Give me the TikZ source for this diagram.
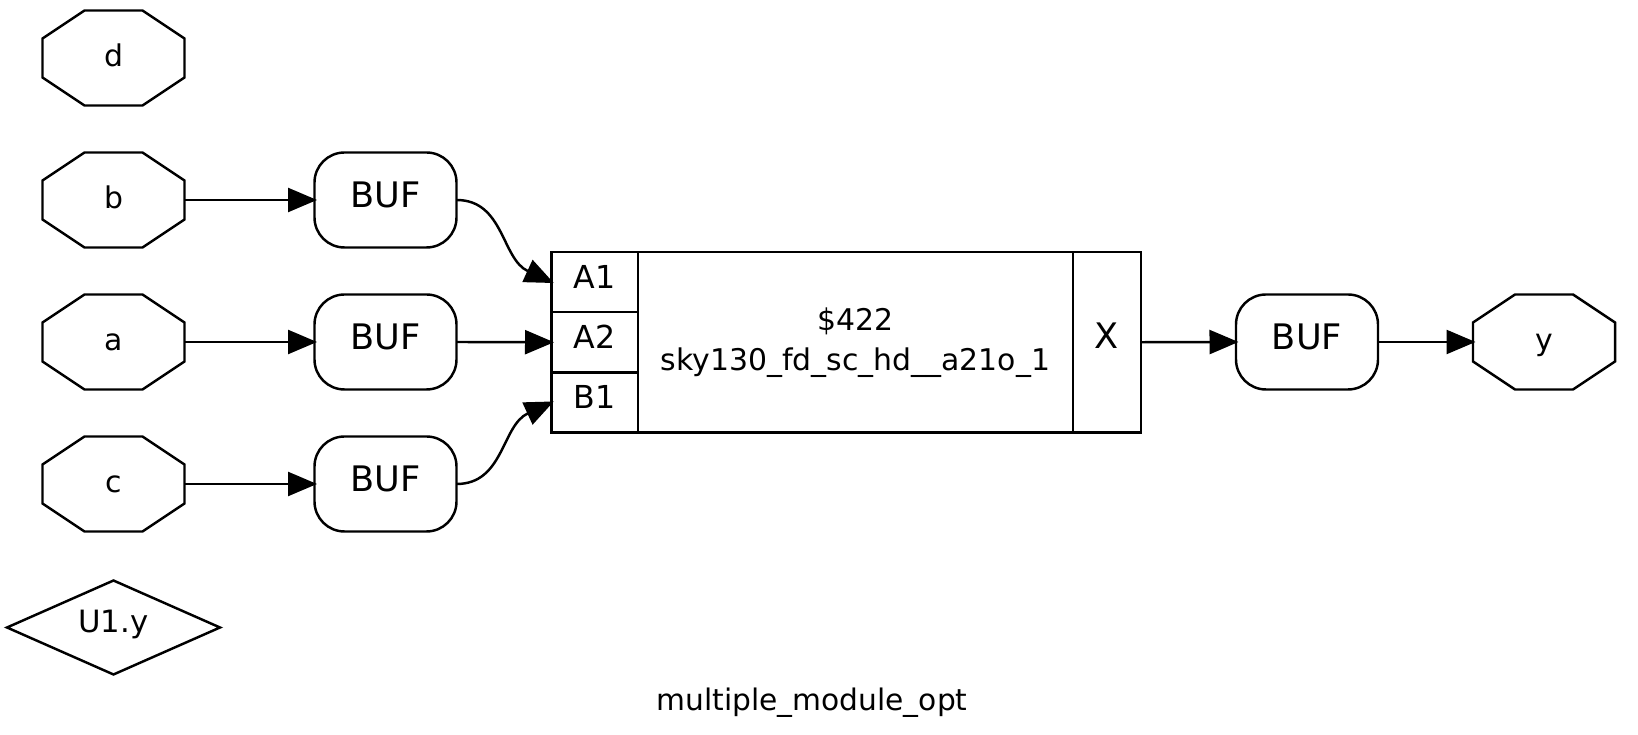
\documentclass[tikz,border=0pt]{standalone}
\usepackage{fontspec}
\setmainfont{DejaVu Sans}
\usetikzlibrary{arrows.meta,shapes.geometric}
\tikzset{
  wire/.style={line width=1.4pt,shorten >=-.05cm,-{Triangle[length=.58cm,width=.48cm]}},
  portbox/.style={minimum width=2.84cm,minimum height=1.9cm,inner sep=0,outer sep=0,
    font=\fontsize{17}{20}\selectfont,text height=.6cm,text depth=.26cm},
  bufbox/.style={draw,line width=1.4pt,rounded corners=.6cm,minimum width=2.84cm,minimum height=1.9cm,
    inner sep=0,outer sep=0,font=\fontsize{20}{24}\selectfont,text height=.56cm,text depth=.25cm},
  pinbox/.style={draw,line width=1.4pt,minimum width=1.73cm,minimum height=1.205cm,inner sep=0,outer sep=0,
    font=\fontsize{18}{22}\selectfont,text height=.46cm,text depth=.2cm},
  cellbox/.style={draw,line width=1.4pt,minimum height=3.61cm,inner sep=0,outer sep=0}
}
\newcommand{\octport}[3]{%
  \node[portbox] (#1) at (#2) {#3};
  \draw[line width=1.4pt] ([xshift=.84cm]#1.north west) -- ([xshift=-.84cm]#1.north east)
    -- ([yshift=-.56cm]#1.north east) -- ([yshift=.56cm]#1.south east)
    -- ([xshift=-.84cm]#1.south east) -- ([xshift=.84cm]#1.south west)
    -- ([yshift=.56cm]#1.south west) -- ([yshift=-.56cm]#1.north west) -- cycle;
}
\begin{document}
\begin{tikzpicture}
  \useasboundingbox (0,0) rectangle (32.76,14.7);

  % ports on the left
  \octport{portd}{2.27,13.54}{d}
  \octport{portb}{2.27,10.70}{b}
  \octport{porta}{2.27,7.86}{a}
  \octport{portc}{2.27,5.02}{c}
  \node[draw,diamond,aspect=2.25,line width=1.4pt,minimum width=4.28cm,minimum height=1.9cm,inner sep=0,
    font=\fontsize{17.5}{20}\selectfont,text height=.5cm,text depth=.304cm] (wireu) at (2.27,2.15) {U1.y};

  % buffers
  \node[bufbox] (bufb) at (7.71,10.70) {BUF};
  \node[bufbox] (bufa) at (7.71,7.86) {BUF};
  \node[bufbox] (bufc) at (7.71,5.02) {BUF};
  \node[bufbox] (bufy) at (26.14,7.86) {BUF};

  % cell with its pins
  \node[pinbox] (pina) at (11.895,9.06) {A1};
  \node[pinbox] (pinb) at (11.895,7.855) {A2};
  \node[pinbox] (pinc) at (11.895,6.65) {B1};
  \node[cellbox,minimum width=8.7cm,align=center,font=\fontsize{17}{22.7}\selectfont] (cell) at (17.11,7.855)
    {\$422\\sky130\_fd\_sc\_hd\_\_a21o\_1};
  \node[cellbox,minimum width=1.36cm,font=\fontsize{20}{22}\selectfont,text height=.46cm,text depth=.2cm] (pinx) at (22.14,7.855) {X};

  % output port
  \octport{porty}{30.88,7.86}{y}

  % connections
  \draw[wire] (portb.east) -- (bufb.west);
  \draw[wire] (porta.east) -- (bufa.west);
  \draw[wire] (portc.east) -- (bufc.west);
  \draw[wire] (bufb.east) .. controls +(.95,0) and +(-1,.46) .. (pina.west);
  \draw[wire] (bufa.east) -- (pinb.west);
  \draw[wire] (bufc.east) .. controls +(.95,0) and +(-1,-.46) .. (pinc.west);
  \draw[wire] (pinx.east) -- (bufy.west);
  \draw[wire] (bufy.east) -- (porty.west);

  \node[font=\fontsize{16.9}{20}\selectfont] (title) at (16.24,.64) {multiple\_module\_opt};
\end{tikzpicture}
\end{document}
